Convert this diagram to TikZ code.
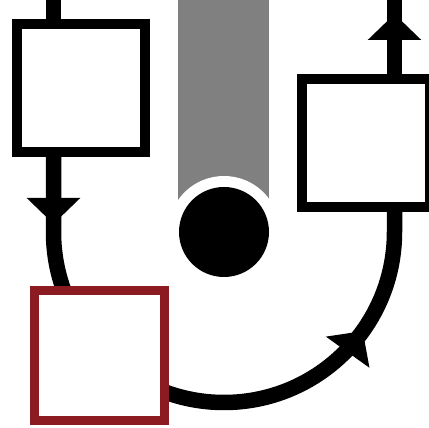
\documentclass[tikz,border=0pt]{standalone}
\usetikzlibrary{arrows.meta,decorations.markings,backgrounds}
\definecolor{boxred}{RGB}{139,27,32}
\definecolor{pipegray}{RGB}{128,128,128}
\tikzset{
    pipehead/.tip={Triangle[length=26pt,width=52pt]},
    block/.style={draw=black, fill=white, line width=10pt,
        minimum size=128pt, inner sep=0pt, outer sep=0pt},
    flow/.style={line width=15.5pt}
}
\begin{document}
\begin{tikzpicture}[x=1pt,y=1pt]
            \useasboundingbox (0,0) rectangle (429,428);
            % ---------- boxes ----------
            \node[block] (inbox) at (81,340) {};
            \node[block] (outbox) at (366,285) {};
            \node[block, draw=boxred, line width=9pt, minimum size=130pt] (redbox) at (99,72) {};
            \coordinate (intop) at (53.5,428);
            \coordinate (outtop) at (394.5,428);
            \begin{scope}[on background layer]
            % ---------- pipe ----------
            \fill[pipegray] (178,196) rectangle (269,428);
            \fill[white] (224,196) circle (56);
            \fill[black] (224,196) circle (45);
            % ---------- in ----------
            \draw[flow] (intop) -- (intop |- inbox.north);
            % ---------- loop ----------
            \draw[flow, postaction={decorate},
                decoration={markings,
                    mark=at position 72pt with {\arrow{pipehead}},
                    mark=at position 510pt with {\arrow{pipehead}}}]
                (intop |- inbox.south) -- (53.5,196)
                arc[start angle=180, end angle=360, radius=170.5]
                -- (outtop |- outbox.south);
            % ---------- out ----------
            \draw[flow, postaction={decorate},
                decoration={markings,
                    mark=at position 65pt with {\arrow{pipehead}}}]
                (outtop |- outbox.north) -- (outtop);
            \end{scope}
        \end{tikzpicture}
\end{document}
